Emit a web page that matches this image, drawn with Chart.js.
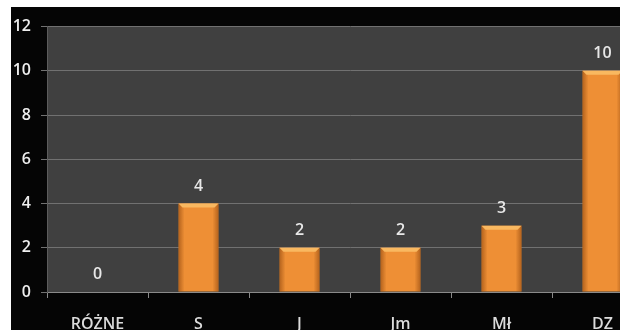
<!DOCTYPE html>
<html>
<head>
<meta charset="utf-8">
<script src="https://cdn.jsdelivr.net/npm/chart.js@4.4.1/dist/chart.umd.min.js"></script>
<style>
  html, body { margin: 0; padding: 0; background: #fff; width: 620px; height: 330px; overflow: hidden; }
  #frame { position: absolute; left: 11px; top: 7px; width: 609px; height: 323px; background: #050505; overflow: hidden; }
  #wrap { position: absolute; left: 0; top: 0; width: 650px; height: 340px; }
</style>
</head>
<body>
<div id="frame"><div id="wrap"><canvas id="myChart"></canvas></div></div>
<script>
// data
const categories = ["RÓŻNE", "S", "J", "Jm", "Mł", "DZ"];
const counts = [0, 4, 2, 2, 3, 10];
const yMin = 0, yMax = 12, yStep = 2;

const textFont = { family: "'Open Sans', sans-serif", size: 16, weight: "600" };

// dark plot background
const plotBg = {
  id: "plotBg",
  beforeDraw(chart) {
    const a = chart.chartArea, c = chart.ctx;
    c.save();
    c.fillStyle = "#404040";
    c.fillRect(a.left, a.top, a.right - a.left, a.bottom - a.top);
    c.restore();
  }
};

// bevel shading + value labels over the bars
const barDeco = {
  id: "barDeco",
  afterDatasetsDraw(chart) {
    const c = chart.ctx;
    const meta = chart.getDatasetMeta(0);
    c.save();
    meta.data.forEach((bar, i) => {
      const w = bar.width, left = bar.x - w / 2, h = bar.base - bar.y;
      if (h > 1) {
        const g = c.createLinearGradient(left, 0, left + w, 0);
        g.addColorStop(0, "rgba(110,45,0,0.45)");
        g.addColorStop(0.15, "rgba(110,45,0,0)");
        g.addColorStop(0.85, "rgba(110,45,0,0)");
        g.addColorStop(1, "rgba(110,45,0,0.45)");
        c.fillStyle = g;
        c.fillRect(left, bar.y, w, h);
        c.fillStyle = "#f9b860";
        c.beginPath();
        c.moveTo(left, bar.y);
        c.lineTo(left + w, bar.y);
        c.lineTo(left + w - 4, bar.y + 4);
        c.lineTo(left + 4, bar.y + 4);
        c.closePath();
        c.fill();
      }
      c.fillStyle = "#e8e8e8";
      c.font = "600 16px 'Open Sans', sans-serif";
      c.textAlign = "center";
      c.textBaseline = "alphabetic";
      c.fillText(String(counts[i]), bar.x, bar.y - 13);
    });
    c.restore();
  }
};

new Chart("myChart", {
  type: "bar",
  data: {
    labels: categories,
    datasets: [{
      data: counts,
      backgroundColor: "#ee8f35",
      borderWidth: 0,
      barPercentage: 0.396,
      categoryPercentage: 1
    }]
  },
  options: {
    responsive: true,
    maintainAspectRatio: false,
    animation: false,
    layout: { padding: { top: 17, right: 8, left: 0, bottom: 0 } },
    plugins: { legend: { display: false }, tooltip: { enabled: false } },
    scales: {
      x: {
        grid: { display: true, drawOnChartArea: false, drawTicks: true, tickLength: 6, color: "#8a8a8a", offset: true },
        border: { display: true, color: "#8a8a8a" },
        ticks: { color: "#dcdcdc", font: textFont, padding: 17, maxRotation: 0 },
        afterFit(s) { s.height = 55; }
      },
      y: {
        min: yMin,
        max: yMax,
        ticks: { stepSize: yStep, color: "#eeeeee", font: textFont, padding: 10 },
        grid: { color: "#717171", tickLength: 6 },
        border: { display: true, color: "#5c5c5c" },
        afterFit(s) { s.width = 36; }
      }
    }
  },
  plugins: [plotBg, barDeco]
});
</script>
</body>
</html>
